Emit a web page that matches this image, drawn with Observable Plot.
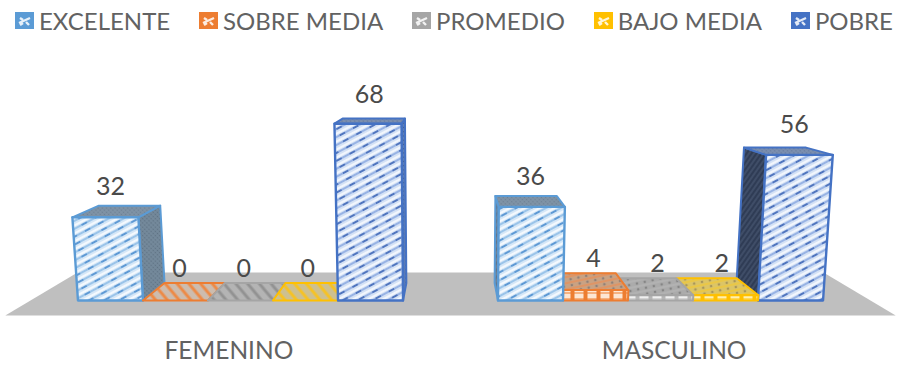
<!DOCTYPE html>
<html>
<head>
<meta charset="utf-8">
<script src="https://cdn.jsdelivr.net/npm/d3@7"></script>
<script src="https://cdn.jsdelivr.net/npm/@observablehq/plot@0.6"></script>
<style>
  html, body { margin: 0; padding: 0; background: #fff; }
  #legend { height: 40px; display: flex; align-items: center; justify-content: space-between;
            padding: 0 5px 0 15px; box-sizing: border-box;
            font: 24px Lato, sans-serif; color: #626262; }
  #legend span { display: inline-flex; align-items: center; gap: 5px; }
  #chart svg { display: block; }
</style>
</head>
<body>
<div id="legend"></div>
<div id="chart"></div>
<script>
// Survey results by sex, five rating levels
const categories = ["FEMENINO", "MASCULINO"];
const seriesNames = ["EXCELENTE", "SOBRE MEDIA", "PROMEDIO", "BAJO MEDIA", "POBRE"];
const femenino = [32, 0, 0, 0, 68];
const masculino = [36, 4, 2, 2, 56];
const groupValues = [femenino, masculino];

const seriesColors = ["#5b9bd5", "#ed7d31", "#a5a5a5", "#ffc000", "#4472c4"];

// Perspective model, in data units (bar slots along x, rating along y)
const gapSlots = 1.46;               // free slots per category
const groupSlots = seriesNames.length + gapSlots;
const centerU = groupSlots;          // horizontal vanishing point
const vanishV = 96;                  // vertical vanishing point
const lean = 2140;                   // verticals splay outward with height
const barDepth = 0.07, floorFront = -0.06, floorBack = 0.112;
const labelDepth = 0.015;

const project = (u, v, t = 0) => {
  const c = 1 - t;
  return {x: centerU + (u - centerU) * (1 + v / lean) * c, y: vanishV - (vanishV - v) * c};
};

// SVG pattern fills for the faces
function defsMark() {
  const ns = d3.create("svg:g");
  const defs = ns.append("defs");
  const pattern = (id, w, h, rot, draw) => {
    const p = defs.append("pattern").attr("id", id).attr("patternUnits", "userSpaceOnUse")
      .attr("width", w).attr("height", h).attr("patternTransform", `rotate(${rot})`);
    draw(p);
  };
  const rect = (p, fill, x = 0, y = 0, w = "100%", h = "100%") =>
    p.append("rect").attr("x", x).attr("y", y).attr("width", w).attr("height", h).attr("fill", fill);
  const stripe = (p, color, y, w, x1, x2) =>
    p.append("line").attr("x1", x1).attr("x2", x2).attr("y1", y).attr("y2", y)
      .attr("stroke", color).attr("stroke-width", w);

  // Tall front faces
  [["front-0", "#d3e6f7", "#f4f9fe", "#8dbce6", "#4f8fcf"], ["front-4", "#d2e0f5", "#f2f6fd", "#8aa8e0", "#3e66b5"]].forEach(([id, bg, light, mid, dark]) =>
    pattern(id, 15, 7, -28, p => {
      rect(p, bg);
      stripe(p, light, 2, 2.2, 0, 15);
      stripe(p, mid, 5, 1.6, 0, 15);
      stripe(p, dark, 5, 1.6, 0, 6);
    }));
  // Short front faces
  [["brick-1", "#ed7d31", "#fde6d3"], ["brick-2", "#b5b5b5", "#f0f0f0"], ["brick-3", "#ffc000", "#fff0b0"]].forEach(([id, bg, light]) =>
    pattern(id, 13, 6, 0, p => { rect(p, bg); rect(p, light, 2, 1, 9, 5); }));
  // Flat tops of the zero bars
  [["flat-1", "#cdbcae", "#ed8a46"], ["flat-2", "#b4b4b4", "#929292"], ["flat-3", "#cdc090", "#f6c224"]].forEach(([id, bg, line]) =>
    pattern(id, 9, 9, 50, p => { rect(p, bg); stripe(p, line, 3, 3, 0, 9); }));
  // Tops of the raised bars
  [["raised-1", "#c9a283", "#e8905a", "#8f8078"], ["raised-2", "#ababab", "#b5b5b5", "#858585"], ["raised-3", "#dcc566", "#f0c838", "#a8965a"]].forEach(([id, bg, line, dot]) =>
    pattern(id, 8, 6, -12, p => {
      rect(p, bg);
      stripe(p, line, 1, 1.4, 0, 8);
      p.append("circle").attr("cx", 4).attr("cy", 4).attr("r", 1.3).attr("fill", dot);
    }));
  // Stippled faces of the tall bars
  [["top-0", "#7f93a6", "#6d8094"], ["top-4", "#7b8fb0", "#667a9e"], ["side-0", "#74899b", "#5f7284"], ["side-4", "#5f7fb8", "#3f5f98"]].forEach(([id, bg, dot]) =>
    pattern(id, 3, 3, 45, p => { rect(p, bg); p.append("circle").attr("cx", 1.5).attr("cy", 1.5).attr("r", 0.8).attr("fill", dot); }));
  // Shaded inner walls on the right-hand group
  [["wall-0", "#6f8296", "#5a6d80"], ["wall-4", "#2f3c55", "#4a5873"]].forEach(([id, bg, line]) =>
    pattern(id, 6, 4, -55, p => { rect(p, bg); stripe(p, line, 2, 1.2, 0, 6); }));
  return ns.node();
}

// Closed polygon through projected corners
const face = (corners, fill, stroke, strokeWidth = 2) =>
  Plot.line(corners, {x: "x", y: "y", fill, stroke, strokeWidth, curve: "linear-closed", strokeLinejoin: "round"});

const floor = [[0, floorBack], [2 * groupSlots, floorBack], [2 * groupSlots, floorFront], [0, floorFront]]
  .map(([u, t]) => project(u, 0, t));

const barMarks = [];
const labels = [];
groupValues.forEach((values, g) => {
  const start = g * groupSlots + gapSlots / 2;
  const order = g === 0 ? [0, 1, 2, 3, 4] : [4, 3, 2, 1, 0];
  order.forEach(s => {
    const v = values[s], u0 = start + s, u1 = u0 + 1;
    const color = seriesColors[s];
    const tall = s === 0 || s === 4;
    const sideU = g === 0 ? u1 : u0;
    if (tall) {
      barMarks.push(face([project(sideU, 0, 0), project(sideU, v, 0), project(sideU, v, barDepth), project(sideU, 0, barDepth)],
        `url(#${g === 0 ? "side" : "wall"}-${s})`, color));
    }
    const topFill = tall ? `url(#top-${s})` : `url(#${v > 0 ? "raised" : "flat"}-${s})`;
    barMarks.push(face([project(u0, v, 0), project(u1, v, 0), project(u1, v, barDepth), project(u0, v, barDepth)], topFill, color));
    const frontFill = tall ? `url(#front-${s})` : `url(#brick-${s})`;
    if (v > 0) barMarks.push(face([project(u0, 0), project(u1, 0), project(u1, v), project(u0, v)], frontFill, color, tall ? 2.4 : 2));
    labels.push({...project(u0 + 0.5, v, labelDepth), text: String(v)});
  });
});

const categoryLabels = categories.map((name, g) => ({...project((g + 0.5) * groupSlots, 0, floorFront), name}));

document.getElementById("chart").append(Plot.plot({
  width: 898,
  height: 326,
  margin: 0,
  x: {domain: [0, 2 * groupSlots], range: [30, 870], axis: null},
  y: {domain: [-25.38, 100], range: [326, 0], axis: null},
  style: {background: "#fff", fontFamily: "Lato, sans-serif"},
  marks: [
    defsMark,
    face(floor, "#bfbfbf", "none", 0),
    ...barMarks,
    Plot.text(labels, {x: "x", y: "y", text: "text", dy: -28, fontSize: 25, fill: "#4a4a4a", stroke: "none"}),
    Plot.text(categoryLabels, {x: "x", y: "y", text: "name", dx: 1, dy: 36, fontSize: 24.5, fill: "#626262"})
  ]
}));

// Legend row above the plot
const legend = d3.select("#legend");
seriesNames.forEach((name, i) => {
  const item = legend.append("span");
  const svg = item.append("svg").attr("width", 19).attr("height", 17);
  svg.append("rect").attr("width", 19).attr("height", 17).attr("fill", seriesColors[i]);
  svg.append("path").attr("d", "M4 11L15 6M5 6L8 8M11 10L14 13M5 13L8 11").attr("stroke", "#fff")
    .attr("stroke-width", 2.4).attr("fill", "none").attr("opacity", 0.85);
  item.append("text").text(name);
});
</script>
</body>
</html>
